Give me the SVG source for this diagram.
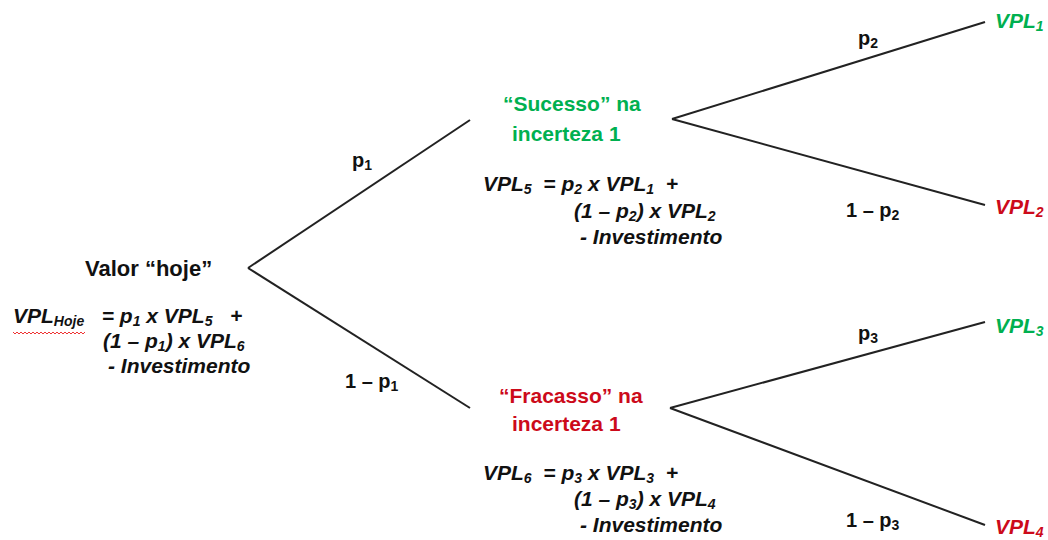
<svg xmlns="http://www.w3.org/2000/svg" width="1048" height="540" viewBox="0 0 1048 540">
<style>
text{font-family:"Liberation Sans",Arial,sans-serif;font-weight:bold;font-size:21px;fill:#111;white-space:pre}
.f{font-style:italic}
.g{fill:#00B050}
.r{fill:#CC0A1A}
.sub{font-size:14px}
.e{font-size:20px}
.big{font-size:22px}
.ln{stroke:#222;stroke-width:2;fill:none}
</style>
<rect width="1048" height="540" fill="#fff"/>
<g id="connectors">
<line class="ln" x1="248" y1="268" x2="470" y2="120"/>
<line class="ln" x1="248" y1="268" x2="470" y2="408"/>
<line class="ln" x1="672" y1="119" x2="985" y2="22"/>
<line class="ln" x1="672" y1="119" x2="985" y2="205"/>
<line class="ln" x1="670" y1="408" x2="985" y2="322"/>
<line class="ln" x1="670" y1="408" x2="985" y2="525"/>
<text class="e" x="352" y="167">p<tspan class="sub" dy="3">1</tspan></text>
<text class="e" x="345" y="388">1 – p<tspan class="sub" dy="3">1</tspan></text>
<text class="e" x="858" y="45">p<tspan class="sub" dy="3">2</tspan></text>
<text class="e" x="846" y="217">1 – p<tspan class="sub" dy="3">2</tspan></text>
<text class="e" x="858" y="340">p<tspan class="sub" dy="3">3</tspan></text>
<text class="e" x="846" y="527">1 – p<tspan class="sub" dy="3">3</tspan></text>
</g>
<g id="root">
<text class="big" x="85" y="276">Valor “hoje”</text>
<text class="f" x="13" y="323">VPL<tspan class="sub" dy="3">Hoje</tspan><tspan dy="-3">   = p</tspan><tspan class="sub" dy="3">1</tspan><tspan dy="-3"> x VPL</tspan><tspan class="sub" dy="3">5</tspan><tspan dy="-3">   +</tspan></text>
<text class="f" x="103" y="348">(1 – p<tspan class="sub" dy="3">1</tspan><tspan dy="-3">) x VPL</tspan><tspan class="sub" dy="3">6</tspan></text>
<text class="f" x="108" y="373">- Investimento</text>
<path d="M13 332 l2 2 l2 -2 l2 2 l2 -2 l2 2 l2 -2 l2 2 l2 -2 l2 2 l2 -2 l2 2 l2 -2 l2 2 l2 -2 l2 2 l2 -2 l2 2 l2 -2 l2 2 l2 -2 l2 2 l2 -2 l2 2 l2 -2 l2 2 l2 -2 l2 2 l2 -2 l2 2 l2 -2 l2 2 l2 -2 l2 2 l2 -2 l2 2 l2 -2" stroke="#e33" stroke-width="1" fill="none"/>
</g>
<g id="success">
<text class="g" x="503" y="111">“Sucesso” na</text>
<text class="g" x="512" y="141">incerteza 1</text>
<text class="f" x="483" y="191">VPL<tspan class="sub" dy="3">5</tspan><tspan dy="-3">  = p</tspan><tspan class="sub" dy="3">2</tspan><tspan dy="-3"> x VPL</tspan><tspan class="sub" dy="3">1</tspan><tspan dy="-3">  +</tspan></text>
<text class="f" x="574" y="218">(1 – p<tspan class="sub" dy="3">2</tspan><tspan dy="-3">) x VPL</tspan><tspan class="sub" dy="3">2</tspan></text>
<text class="f" x="580" y="244">- Investimento</text>
</g>
<g id="failure">
<text class="r" x="499" y="403">“Fracasso” na</text>
<text class="r" x="512" y="431">incerteza 1</text>
<text class="f" x="483" y="480">VPL<tspan class="sub" dy="3">6</tspan><tspan dy="-3">  = p</tspan><tspan class="sub" dy="3">3</tspan><tspan dy="-3"> x VPL</tspan><tspan class="sub" dy="3">3</tspan><tspan dy="-3">  +</tspan></text>
<text class="f" x="574" y="506">(1 – p<tspan class="sub" dy="3">3</tspan><tspan dy="-3">) x VPL</tspan><tspan class="sub" dy="3">4</tspan></text>
<text class="f" x="580" y="532">- Investimento</text>
</g>
<g id="vpl1"><text class="f g" x="995" y="28">VPL<tspan class="sub" dy="3">1</tspan></text></g>
<g id="vpl2"><text class="f r" x="995" y="214">VPL<tspan class="sub" dy="3">2</tspan></text></g>
<g id="vpl3"><text class="f g" x="995" y="333">VPL<tspan class="sub" dy="3">3</tspan></text></g>
<g id="vpl4"><text class="f r" x="995" y="534">VPL<tspan class="sub" dy="3">4</tspan></text></g>
</svg>
